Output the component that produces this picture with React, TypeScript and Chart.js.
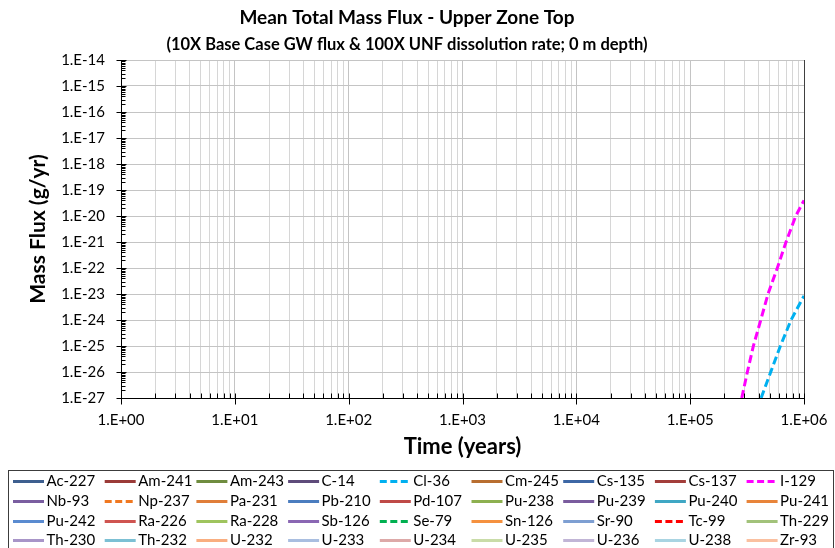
import React, { useEffect, useRef } from 'react';
import { Chart, registerables } from 'chart.js';

Chart.register(...registerables);

const chartTitle = 'Mean Total Mass Flux - Upper Zone Top';
const chartSubtitle = '(10X Base Case GW flux & 100X UNF dissolution rate; 0 m depth)';
const xAxisTitle = 'Time (years)';
const yAxisTitle = 'Mass Flux (g/yr)';

const xExpMin = 0;
const xExpMax = 6;
const yExpMin = -27;
const yExpMax = -14;

const species = [
  'Ac-227', 'Am-241', 'Am-243', 'C-14', 'Cl-36', 'Cm-245', 'Cs-135', 'Cs-137', 'I-129',
  'Nb-93', 'Np-237', 'Pa-231', 'Pb-210', 'Pd-107', 'Pu-238', 'Pu-239', 'Pu-240', 'Pu-241',
  'Pu-242', 'Ra-226', 'Ra-228', 'Sb-126', 'Se-79', 'Sn-126', 'Sr-90', 'Tc-99', 'Th-229',
  'Th-230', 'Th-232', 'U-232', 'U-233', 'U-234', 'U-235', 'U-236', 'U-238', 'Zr-93',
];

const speciesColors = [
  '#3E5F8F', '#9B3B38', '#6F8C3F', '#5E4B7A', '#00B0F0', '#B86E30', '#3D67A5', '#A33E3B', '#FF00FF',
  '#7A5EA0', '#F07820', '#E07E39', '#4B7DBF', '#BF4A47', '#8DB050', '#7A5C9E', '#3FA7C4', '#E8843A',
  '#5A8BD0', '#CF5450', '#9FC45E', '#8A67B3', '#00B050', '#F5913F', '#7E9FD2', '#FF0000', '#A2C27A',
  '#A895C8', '#7CC0D4', '#F9AE80', '#A9BEE0', '#DDA9A8', '#C9DCA8', '#C1B5D6', '#A9D4E2', '#FAC0A0',
];

const dashedSpecies = ['Cl-36', 'I-129', 'Np-237', 'Se-79', 'Tc-99'];

// Only series visible above 1E-27 within the plotted time range
const i129Times = [2.84e5, 3.18e5, 3.59e5, 4.17e5, 4.83e5, 5.83e5, 6.95e5, 8.46e5, 1e6];
const i129Flux = [1e-27, 1e-26, 1e-25, 1e-24, 1e-23, 1e-22, 1e-21, 1e-20, 4e-20];

const cl36Times = [4.2e5, 5.1e5, 6.2e5, 7.7e5, 1e6];
const cl36Flux = [1e-27, 1e-26, 1e-25, 1e-24, 8.5e-24];

const seriesData: Record<string, { times: number[]; flux: number[] }> = {
  'I-129': { times: i129Times, flux: i129Flux },
  'Cl-36': { times: cl36Times, flux: cl36Flux },
};

function expLabel(v: number): string {
  const e = Math.round(Math.log10(v));
  const sign = e < 0 ? '-' : '+';
  const a = Math.abs(e);
  return '1.E' + sign + (a < 10 ? '0' + a : '' + a);
}

const FONT = 'Lato, "Open Sans", sans-serif';

const decorPlugin = {
  id: 'decor',
  afterDraw(chart: any) {
    const ctx: CanvasRenderingContext2D = chart.ctx;
    const { left, right, top, bottom } = chart.chartArea;
    const xs = chart.scales.x;
    const ys = chart.scales.y;
    const line = (x1: number, y1: number, x2: number, y2: number) => {
      ctx.beginPath();
      ctx.moveTo(x1, y1);
      ctx.lineTo(x2, y2);
      ctx.stroke();
    };
    ctx.save();
    // right border
    ctx.strokeStyle = '#404040';
    ctx.lineWidth = 1;
    const rx = Math.round(right) + 0.5;
    line(rx, top, rx, bottom + 1);
    // axes
    ctx.strokeStyle = '#000000';
    const lx = Math.round(left) + 0.5;
    const by = Math.round(bottom) + 0.5;
    line(lx, top, lx, bottom + 1);
    line(left, by, right + 1, by);
    // y ticks
    for (let e = yExpMin; e <= yExpMax; e++) {
      const py = Math.round(ys.getPixelForValue(Math.pow(10, e))) + 0.5;
      line(lx - 5, py, lx + 5, py);
      if (e < yExpMax) {
        for (let m = 2; m <= 9; m++) {
          const my = Math.round(ys.getPixelForValue(m * Math.pow(10, e))) + 0.5;
          line(lx, my, lx + 4, my);
        }
      }
    }
    // x ticks
    for (let e = xExpMin; e <= xExpMax; e++) {
      const px = Math.round(xs.getPixelForValue(Math.pow(10, e))) + 0.5;
      line(px, by - 5, px, by + 6);
      if (e < xExpMax) {
        for (let m = 2; m <= 9; m++) {
          const mx = Math.round(xs.getPixelForValue(m * Math.pow(10, e))) + 0.5;
          line(mx, by - 5, mx, by);
        }
      }
    }
    // titles
    ctx.fillStyle = '#000000';
    ctx.textAlign = 'center';
    ctx.textBaseline = 'middle';
    ctx.font = 'bold 19px ' + FONT;
    ctx.fillText(chartTitle, 407, 18);
    ctx.font = 'bold 16.5px ' + FONT;
    ctx.fillText(chartSubtitle, 407, 45);
    ctx.font = 'bold 22px ' + FONT;
    ctx.fillText(xAxisTitle, (left + right) / 2, 447);
    ctx.save();
    ctx.translate(38, (top + bottom) / 2);
    ctx.rotate(-Math.PI / 2);
    ctx.font = 'bold 21px ' + FONT;
    ctx.fillText(yAxisTitle, 0, 0);
    ctx.restore();
    // legend
    ctx.strokeStyle = '#3C3C3C';
    ctx.lineWidth = 1;
    ctx.strokeRect(8.5, 470.5, 825, 90);
    ctx.font = '15px ' + FONT;
    ctx.textAlign = 'left';
    chart.data.datasets.forEach((ds: any, i: number) => {
      const col = i % 9;
      const row = Math.floor(i / 9);
      const x0 = 13 + col * 91.7;
      const y0 = Math.round(480.7 + row * 19.9) + 0.5;
      ctx.strokeStyle = ds.borderColor;
      ctx.lineWidth = 3;
      ctx.setLineDash(ds.borderDash && ds.borderDash.length ? [7, 3.5] : []);
      line(x0, y0, x0 + 31, y0);
      ctx.setLineDash([]);
      ctx.fillStyle = '#000000';
      ctx.fillText(ds.label, x0 + 33.5, y0);
    });
    ctx.restore();
  },
};

export default function App() {
  const canvasRef = useRef<HTMLCanvasElement | null>(null);

  useEffect(() => {
    document.body.style.margin = '0';
    const canvas = canvasRef.current;
    if (!canvas) return;

    const datasets = species.map((name, i) => {
      const s = seriesData[name];
      const data = s ? s.times.map((t, k) => ({ x: t, y: s.flux[k] })) : [];
      return {
        label: name,
        data,
        borderColor: speciesColors[i],
        backgroundColor: speciesColors[i],
        borderWidth: 3,
        borderDash: dashedSpecies.includes(name) ? [8, 4] : [],
        pointRadius: 0,
        fill: false,
        tension: 0,
      };
    });

    const xTickValues: { value: number; major: boolean }[] = [];
    for (let e = xExpMin; e <= xExpMax; e++) {
      xTickValues.push({ value: Math.pow(10, e), major: true });
      if (e < xExpMax) {
        for (let m = 2; m <= 9; m++) xTickValues.push({ value: m * Math.pow(10, e), major: false });
      }
    }
    const yTickValues: { value: number; major: boolean }[] = [];
    for (let e = yExpMin; e <= yExpMax; e++) yTickValues.push({ value: Math.pow(10, e), major: true });

    const chart = new Chart(canvas, {
      type: 'line',
      data: { datasets },
      options: {
        animation: false,
        responsive: false,
        maintainAspectRatio: false,
        devicePixelRatio: 1,
        layout: { padding: { top: 60, right: 31, left: 0, bottom: 0 } },
        plugins: {
          legend: { display: false },
          tooltip: { enabled: false },
          title: { display: false },
        },
        scales: {
          x: {
            type: 'logarithmic',
            min: Math.pow(10, xExpMin),
            max: Math.pow(10, xExpMax),
            afterBuildTicks: (scale: any) => {
              scale.ticks = xTickValues.map((t) => ({ ...t }));
            },
            afterFit: (scale: any) => {
              scale.height = 150;
              scale.paddingLeft = 0;
              scale.paddingRight = 0;
            },
            border: { display: false },
            grid: {
              drawTicks: false,
              color: (c: any) => (c.tick && c.tick.major ? '#C4C4C4' : '#D6D6D6'),
              lineWidth: 1,
            },
            ticks: {
              autoSkip: false,
              maxRotation: 0,
              minRotation: 0,
              padding: 13,
              color: '#000000',
              font: { family: FONT, size: 15 },
              callback: (value: any, index: number) => (xTickValues[index] && xTickValues[index].major ? expLabel(Number(value)) : ''),
            },
          },
          y: {
            type: 'logarithmic',
            min: Math.pow(10, yExpMin),
            max: Math.pow(10, yExpMax),
            afterBuildTicks: (scale: any) => {
              scale.ticks = yTickValues.map((t) => ({ ...t }));
            },
            afterFit: (scale: any) => {
              scale.width = 121;
              scale.paddingTop = 0;
              scale.paddingBottom = 0;
            },
            border: { display: false },
            grid: {
              drawTicks: false,
              color: '#C4C4C4',
              lineWidth: 1,
            },
            ticks: {
              autoSkip: false,
              padding: 16,
              color: '#000000',
              font: { family: FONT, size: 15 },
              callback: (value: any) => expLabel(Number(value)),
            },
          },
        },
      },
      plugins: [decorPlugin],
    } as any);

    return () => {
      chart.destroy();
    };
  }, []);

  return (
    <div style={{ width: 835, height: 548, background: '#ffffff', overflow: 'hidden' }}>
      <canvas ref={canvasRef} width={835} height={548} style={{ width: 835, height: 548, display: 'block' }} />
    </div>
  );
}
